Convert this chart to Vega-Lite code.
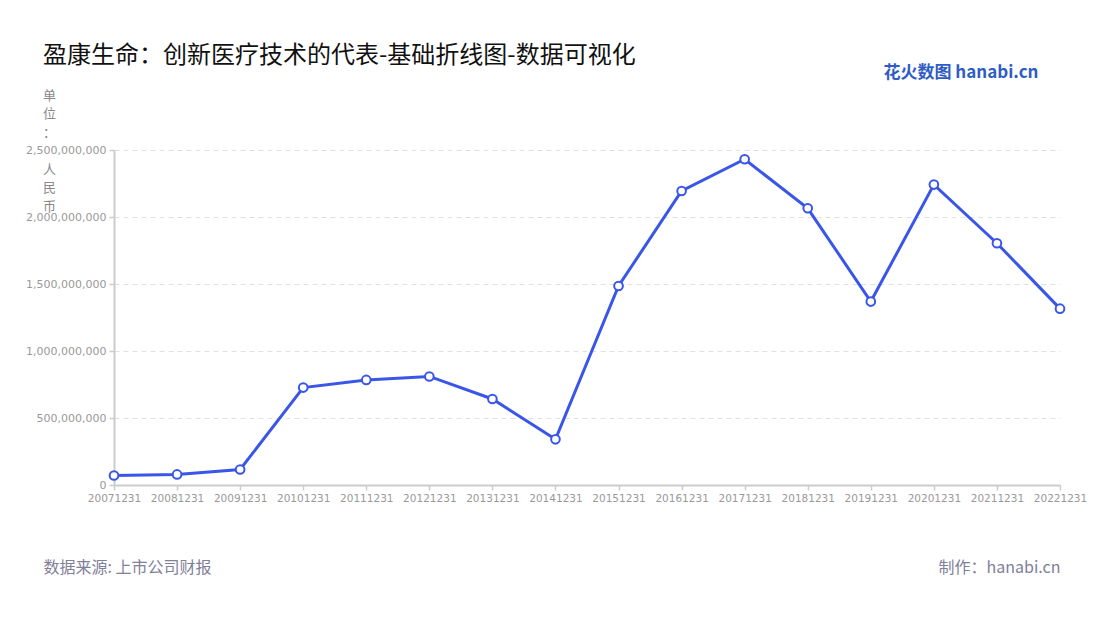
{
  "$schema": "https://vega.github.io/schema/vega-lite/v6.json",
  "autosize": {"type": "none"},
  "width": 946,
  "height": 335,
  "padding": {"left": 114, "top": 150, "right": 40, "bottom": 135},
  "background": "#ffffff",
  "config": {
    "view": {"stroke": null},
    "font": "DejaVu Sans"
  },
  "title": {
    "text": "盈康生命：创新医疗技术的代表-基础折线图-数据可视化",
    "anchor": "start",
    "frame": "group",
    "font": "Noto Sans CJK SC",
    "fontSize": 24,
    "fontWeight": "normal",
    "color": "#111111",
    "dx": -71,
    "dy": 5,
    "offset": 0
  },
  "data": {
    "values": [
      {"date": "20071231", "value": 71000000},
      {"date": "20081231", "value": 79000000},
      {"date": "20091231", "value": 116000000},
      {"date": "20101231", "value": 727000000},
      {"date": "20111231", "value": 784000000},
      {"date": "20121231", "value": 810000000},
      {"date": "20131231", "value": 642000000},
      {"date": "20141231", "value": 341000000},
      {"date": "20151231", "value": 1485000000},
      {"date": "20161231", "value": 2194000000},
      {"date": "20171231", "value": 2431000000},
      {"date": "20181231", "value": 2065000000},
      {"date": "20191231", "value": 1369000000},
      {"date": "20201231", "value": 2242000000},
      {"date": "20211231", "value": 1804000000},
      {"date": "20221231", "value": 1316000000}
    ]
  },
  "resolve": {"axis": {"x": "independent", "y": "independent"}},
  "layer": [
    {
      "mark": {"type": "line", "color": "#3a56e8", "strokeWidth": 3},
      "encoding": {
        "x": {
          "field": "date",
          "type": "ordinal",
          "sort": null,
          "scale": {"type": "point", "padding": 0},
          "axis": {
            "orient": "bottom",
            "labelAngle": 0,
            "labelFontSize": 10.5,
            "labelColor": "#999999",
            "labelPadding": 3,
            "tickSize": 5,
            "tickColor": "#cccccc",
            "tickWidth": 1.5,
            "domainColor": "#cccccc",
            "domainWidth": 2,
            "grid": false,
            "title": "数据来源: 上市公司财报",
            "titleFont": "Noto Sans CJK SC",
            "titleFontSize": 16,
            "titleFontWeight": "normal",
            "titleColor": "#80809a",
            "titleAnchor": "start",
            "titleAlign": "left",
            "titleBaseline": "middle",
            "titleX": -71,
            "titleY": 82
          }
        },
        "y": {
          "field": "value",
          "type": "quantitative",
          "scale": {"domain": [0, 2500000000], "nice": false},
          "axis": {
            "orient": "left",
            "values": [0, 500000000, 1000000000, 1500000000, 2000000000, 2500000000],
            "format": ",d",
            "labelFontSize": 11,
            "labelColor": "#999999",
            "labelPadding": 3,
            "tickSize": 5,
            "tickColor": "#cccccc",
            "tickWidth": 1.5,
            "domainColor": "#cccccc",
            "domainWidth": 2,
            "grid": true,
            "gridColor": "#e0e0e0",
            "gridDash": [5, 4],
            "gridWidth": 1,
            "title": ["单", "位", "："],
            "titleFont": "Noto Sans CJK SC",
            "titleFontSize": 13,
            "titleFontWeight": "normal",
            "titleColor": "#888888",
            "titleAngle": 0,
            "titleAlign": "center",
            "titleBaseline": "middle",
            "titleLineHeight": 18.6,
            "titleX": -65,
            "titleY": -55
          }
        }
      }
    },
    {
      "mark": {"type": "point", "filled": true, "fill": "#ffffff", "stroke": "#3a56e8", "strokeWidth": 2, "size": 75, "opacity": 1},
      "encoding": {
        "x": {
          "field": "date",
          "type": "ordinal",
          "sort": null,
          "scale": {"type": "point", "padding": 0},
          "axis": {
            "orient": "top",
            "labels": false,
            "ticks": false,
            "domain": false,
            "grid": false,
            "title": "花火数图 hanabi.cn",
            "titleFont": "Noto Sans CJK SC",
            "titleFontSize": 17,
            "titleFontWeight": "bold",
            "titleColor": "#2f5cc4",
            "titleAlign": "right",
            "titleBaseline": "middle",
            "titleX": 924,
            "titleY": -78
          }
        },
        "y": {
          "field": "value",
          "type": "quantitative",
          "scale": {"domain": [0, 2500000000], "nice": false},
          "axis": {
            "orient": "right",
            "labels": false,
            "ticks": false,
            "domain": false,
            "grid": false,
            "title": "制作：hanabi.cn",
            "titleFont": "Noto Sans CJK SC",
            "titleFontSize": 16,
            "titleFontWeight": "normal",
            "titleColor": "#80809a",
            "titleAngle": 0,
            "titleAlign": "right",
            "titleBaseline": "middle",
            "titleX": 0,
            "titleY": 417
          }
        }
      }
    },
    {
      "mark": {"type": "point", "opacity": 0},
      "encoding": {
        "y": {
          "field": "value",
          "type": "quantitative",
          "scale": {"domain": [0, 2500000000], "nice": false},
          "axis": {
            "orient": "left",
            "labels": false,
            "ticks": false,
            "domain": false,
            "grid": false,
            "title": ["人", "民", "币"],
            "titleFont": "Noto Sans CJK SC",
            "titleFontSize": 13,
            "titleFontWeight": "normal",
            "titleColor": "#888888",
            "titleAngle": 0,
            "titleAlign": "center",
            "titleBaseline": "middle",
            "titleLineHeight": 18.6,
            "titleX": -65,
            "titleY": 19
          }
        }
      }
    }
  ]
}
